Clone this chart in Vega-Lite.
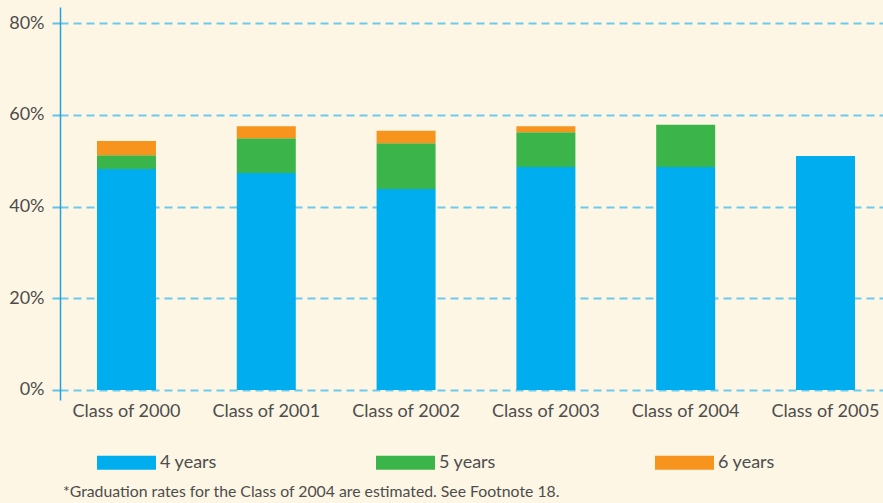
{
  "$schema": "https://vega.github.io/schema/vega-lite/v6.json",
  "autosize": {"type": "none"},
  "width": 823,
  "height": 393,
  "padding": {"left": 60, "top": 7, "right": 0, "bottom": 103},
  "background": "#fdf6e4",
  "config": {
    "view": {"stroke": null},
    "font": "Lato"
  },
  "title": {
    "text": "*Graduation rates for the Class of 2004 are estimated. See Footnote 18.",
    "orient": "bottom",
    "anchor": "start",
    "frame": "group",
    "fontSize": 15.8,
    "fontWeight": "normal",
    "color": "#4d4d4d",
    "font": "Lato",
    "dx": 3,
    "offset": 13
  },
  "data": {
    "values": [
      {"cls": "Class of 2000", "period": "4 years", "ord": 1, "value": 48.2},
      {"cls": "Class of 2000", "period": "5 years", "ord": 2, "value": 3.0},
      {"cls": "Class of 2000", "period": "6 years", "ord": 3, "value": 3.1},
      {"cls": "Class of 2001", "period": "4 years", "ord": 1, "value": 47.3},
      {"cls": "Class of 2001", "period": "5 years", "ord": 2, "value": 7.6},
      {"cls": "Class of 2001", "period": "6 years", "ord": 3, "value": 2.6},
      {"cls": "Class of 2002", "period": "4 years", "ord": 1, "value": 43.8},
      {"cls": "Class of 2002", "period": "5 years", "ord": 2, "value": 10.0},
      {"cls": "Class of 2002", "period": "6 years", "ord": 3, "value": 2.7},
      {"cls": "Class of 2003", "period": "4 years", "ord": 1, "value": 48.6},
      {"cls": "Class of 2003", "period": "5 years", "ord": 2, "value": 7.6},
      {"cls": "Class of 2003", "period": "6 years", "ord": 3, "value": 1.3},
      {"cls": "Class of 2004", "period": "4 years", "ord": 1, "value": 48.6},
      {"cls": "Class of 2004", "period": "5 years", "ord": 2, "value": 9.2},
      {"cls": "Class of 2005", "period": "4 years", "ord": 1, "value": 51.0}
    ]
  },
  "mark": {"type": "bar"},
  "encoding": {
    "x": {
      "field": "cls",
      "type": "nominal",
      "sort": null,
      "scale": {"paddingInner": 0.578, "paddingOuter": 0.2325, "align": 0.569},
      "axis": {
        "title": null,
        "labelAngle": 0,
        "domain": false,
        "ticks": false,
        "labelFontSize": 18,
        "labelColor": "#4d4d4d",
        "labelFont": "Lato",
        "labelPadding": 2
      }
    },
    "y": {
      "field": "value",
      "type": "quantitative",
      "stack": "zero",
      "scale": {"domain": [-2.18, 83.49], "nice": false, "zero": false},
      "axis": {
        "title": null,
        "values": [0, 20, 40, 60, 80],
        "labelExpr": "datum.value + '%'",
        "labelFontSize": 18,
        "labelColor": "#4d4d4d",
        "labelFont": "Lato",
        "labelPadding": 4,
        "domainColor": "#2a9fd6",
        "domainWidth": 1.5,
        "tickSize": 12,
        "tickColor": "#5cc5ef",
        "tickWidth": 2,
        "tickDash": [8, 5],
        "gridColor": "#5cc5ef",
        "gridWidth": 2,
        "gridDash": [8, 5],
        "gridOpacity": 0.9
      }
    },
    "color": {
      "field": "period",
      "type": "nominal",
      "scale": {"domain": ["4 years", "5 years", "6 years"], "range": ["#00adef", "#3bb54a", "#f7941e"]},
      "legend": {
        "title": null,
        "orient": "none",
        "legendX": 37,
        "legendY": 426,
        "direction": "horizontal",
        "columns": 3,
        "columnPadding": 159,
        "symbolType": "M-1,-0.237H1V0.237H-1Z",
        "symbolSize": 3481,
        "symbolStrokeWidth": 0,
        "symbolOpacity": 1,
        "labelFontSize": 18,
        "labelColor": "#4d4d4d",
        "labelFont": "Lato",
        "labelOffset": 4
      }
    },
    "order": {"field": "ord", "type": "quantitative"}
  }
}
